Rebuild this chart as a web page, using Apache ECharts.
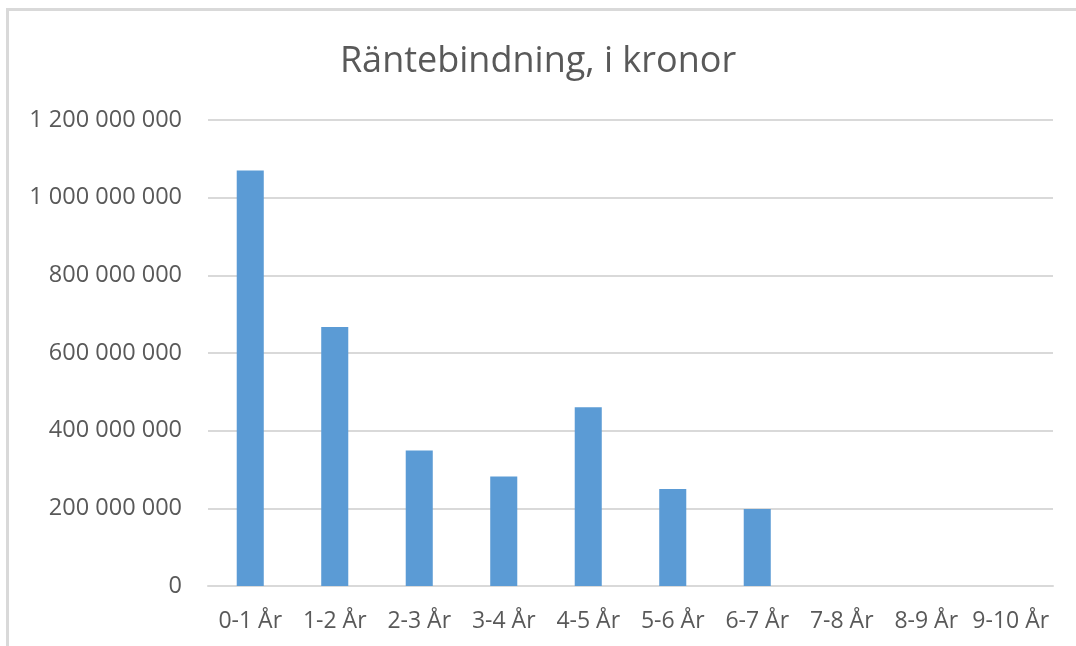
<!DOCTYPE html>
<html>
<head>
<meta charset="utf-8">
<script src="https://cdn.jsdelivr.net/npm/echarts@6/dist/echarts.min.js"></script>
<style>
html,body{margin:0;padding:0;background:#fff;}
#c{width:1076px;height:646px;}
</style>
</head>
<body>
<div id="c"></div>
<script>
const titleText = 'Räntebindning, i kronor';
const categories = ['0-1 År','1-2 År','2-3 År','3-4 År','4-5 År','5-6 År','6-7 År','7-8 År','8-9 År','9-10 År'];
const values = [1070000000, 667000000, 349000000, 282000000, 460000000, 250000000, 198000000, 0, 0, 0];
const yMin = 0, yMax = 1200000000, yStep = 200000000;

const chart = echarts.init(document.getElementById('c'), null, {renderer:'canvas'});
const fontFamily = '"Open Sans", "Noto Sans", sans-serif';
function fmt(v){
  return String(Math.round(v)).replace(/\B(?=(\d{3})+(?!\d))/g, ' ');
}
chart.setOption({
  animation:false,
  backgroundColor:'#ffffff',
  title:{
    text:titleText,
    left:'center',
    top:39,
    textStyle:{fontFamily:fontFamily,fontSize:36,fontWeight:'normal',color:'#595959'}
  },
  graphic:[
    {type:'rect',shape:{x:6,y:8,width:1070,height:3},style:{fill:'#d9d9d9'},silent:true},
    {type:'rect',shape:{x:6,y:8,width:3,height:638},style:{fill:'#d9d9d9'},silent:true}
  ],
  grid:{left:208,right:23,top:120,bottom:60,containLabel:false},
  xAxis:{
    type:'category',
    data:categories,
    axisLine:{show:true,lineStyle:{color:'#d9d9d9',width:2}},
    axisTick:{show:false},
    axisLabel:{fontFamily:fontFamily,fontSize:23,color:'#595959',margin:24,interval:0}
  },
  yAxis:{
    type:'value',
    min:yMin,max:yMax,interval:yStep,
    axisLine:{show:false},
    axisTick:{show:false},
    splitLine:{lineStyle:{color:'#d9d9d9',width:2}},
    axisLabel:{fontFamily:fontFamily,fontSize:23.5,color:'#595959',margin:26,formatter:fmt}
  },
  series:[{
    type:'bar',
    data:values,
    barWidth:'32%',
    itemStyle:{color:'#5b9bd5'}
  }]
});
</script>
</body>
</html>
